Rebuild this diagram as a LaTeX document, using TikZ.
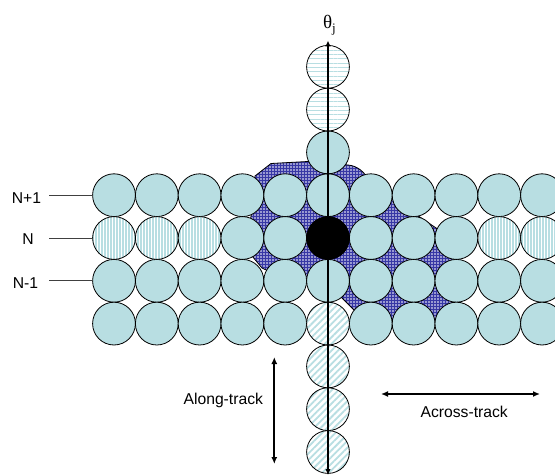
\documentclass[tikz,border=0pt]{standalone}
\usepackage{amsmath}
\usepackage{fontspec}
\setmainfont{Liberation Sans}
\newfontfamily\serifgreek{Liberation Serif}
\usetikzlibrary{patterns.meta,arrows.meta}
\definecolor{cellteal}{RGB}{184,222,226}
\definecolor{blobblue}{RGB}{55,55,165}
\begin{document}
\begin{tikzpicture}[x=1pt,y=-1pt,
  cell/.style={circle,draw=black,line width=0.8pt,minimum size=42.8pt,inner sep=0pt,outer sep=0pt},
  plaincell/.style={cell,fill=cellteal},
  hcell/.style={cell,preaction={fill=white},pattern={Lines[angle=0,distance=4.3pt,line width=1pt]},pattern color=cellteal},
  vcell/.style={cell,preaction={fill=white},pattern={Lines[angle=90,distance=3pt,line width=1.2pt]},pattern color=cellteal},
  dcell/.style={cell,preaction={fill=white},pattern={Lines[angle=45,distance=4.7pt,line width=1.8pt]},pattern color=cellteal},
  hitcell/.style={cell,fill=black},
  lbl/.style={font=\fontsize{15.7}{18}\selectfont,inner sep=0pt,anchor=base},
  tickline/.style={draw=black!75,line width=0.9pt},
  dirarrow/.style={line width=1.8pt,{Latex[length=7pt,width=6pt]}-{Latex[length=7pt,width=6pt]}},
  axisarrow/.style={line width=1.3pt,{Latex[length=6pt,width=5.5pt]}-{Latex[length=6pt,width=5.5pt]}},
  blob/.style={preaction={fill=blobblue},pattern={Dots[distance=3pt,radius=0.95pt]},pattern color=white,draw=black,line width=0.8pt}
]
\clip (0,0) rectangle (555,476);
\fill[white] (0,0) rectangle (555,476);

% footprint region (behind the cells)
\path[blob] (255,176) -- (271,163.5) -- (308,161.5) -- (348,165)
  .. controls (358,166) and (364,172) .. (369,180) -- (382,192) -- (405,207)
  -- (442,232) -- (453,258) -- (453,305) -- (446,321) -- (362,321)
  -- (354,310) -- (343,299) -- (330,286) -- (306.6,281) -- (285,279)
  -- (262,268) -- (252,256) -- (249,240) -- (250,222) -- (253,205) -- cycle;

% rows of cells
\foreach \k in {1,...,11}{
  \pgfmathsetmacro\xx{328+42.8*(\k-6)}
  \node[plaincell] (a\k) at (\xx,195.2) {};
  \node[plaincell] (c\k) at (\xx,280.8) {};
}
\foreach \k in {1,2,3,4,5,7,8,9,10,11}{
  \pgfmathsetmacro\xx{328+42.8*(\k-6)}
  \node[plaincell] (d\k) at (\xx,323.6) {};
}
\node[dcell] (d6) at (328,323.6) {};
\foreach \k in {1,2,3,10,11}{
  \pgfmathsetmacro\xx{328+42.8*(\k-6)}
  \node[vcell] (b\k) at (\xx,238) {};
}
\foreach \k in {4,5,7,8,9}{
  \pgfmathsetmacro\xx{328+42.8*(\k-6)}
  \node[plaincell] (b\k) at (\xx,238) {};
}
\node[hitcell] (b6) at (328,238) {};

% along-track column
\node[plaincell] (t1) at (328,152.4) {};
\node[hcell] (t2) at (328,109.6) {};
\node[hcell] (t3) at (328,66.8) {};
\node[dcell] (u1) at (328,366.4) {};
\node[dcell] (u2) at (328,409.2) {};
\node[dcell] (u3) at (328,452.0) {};

% axis
\coordinate (axtop) at (328,40.5);
\coordinate (axbot) at (328,475);
\draw[axisarrow] (axbot) -- (axtop);
\node[inner sep=0pt,anchor=base west,font=\fontsize{19}{20}\selectfont] (theta) at (322.8,28.3) {\serifgreek θ\raisebox{-4pt}{\fontsize{13}{14}\selectfont j}};

% scan line labels
\coordinate (l1) at (49,195.2);
\coordinate (l2) at (49,238);
\coordinate (l3) at (49,280.8);
\draw[tickline] (l1) -- (a1.west);
\draw[tickline] (l2) -- (b1.west);
\draw[tickline] (l3) -- (c1.west);
\node[lbl] (np1) at (26.5,204) {N+1};
\node[lbl] (n0) at (28,245) {N};
\node[lbl] (nm1) at (25.5,288) {N-1};

% direction arrows
\coordinate (al1) at (274.3,357);
\coordinate (al2) at (274.3,464);
\draw[dirarrow] (al1) -- (al2);
\node[lbl] (along) at (223.3,404.3) {Along-track};
\coordinate (ac1) at (381,394);
\coordinate (ac2) at (540,394);
\draw[dirarrow] (ac1) -- (ac2);
\node[lbl] (across) at (464.2,417.7) {Across-track};
\end{tikzpicture}
\end{document}
